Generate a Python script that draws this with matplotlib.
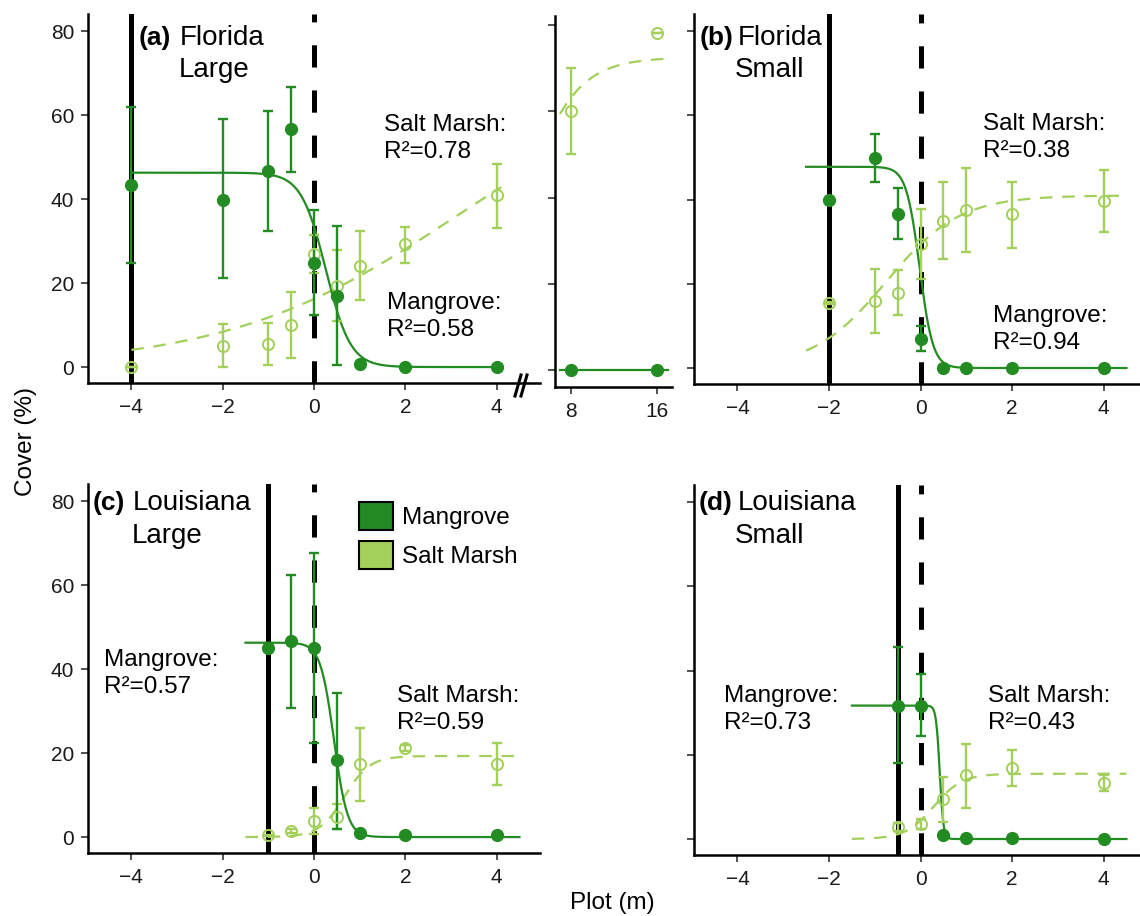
import numpy as np
import matplotlib
matplotlib.use("Agg")
import matplotlib.pyplot as plt
from matplotlib.patches import Patch
from matplotlib.lines import Line2D

plt.rcParams['font.family'] = ['Liberation Sans', 'DejaVu Sans']
plt.rcParams['lines.scale_dashes'] = False

W, H = 1140, 916
MANG = '#228B22'
SALT = '#A2D05A'

# ---- data ----
# (a) Florida Large
fl_l_x = [-4, -2, -1, -0.5, 0, 0.5, 1, 2, 4]
fl_l_mang = [43.4, 39.9, 46.7, 56.7, 24.9, 17.0, 0.7, 0.1, 0.1]
fl_l_mang_lo = [24.8, 21.1, 32.5, 46.5, 12.5, 0.5, 0.7, 0.1, 0.1]
fl_l_mang_hi = [61.9, 59.0, 61.0, 66.8, 37.5, 33.5, 0.7, 0.1, 0.1]
fl_l_salt = [0.1, 5.0, 5.6, 10.0, 27.0, 19.4, 24.1, 29.2, 40.9]
fl_l_salt_lo = [0.1, 0.1, 0.6, 2.1, 22.4, 10.9, 15.9, 24.9, 33.2]
fl_l_salt_hi = [0.1, 10.2, 10.6, 17.8, 31.5, 28.0, 32.5, 33.3, 48.4]

# (a) far plots (broken axis)
fl_far_x = [8, 16]
fl_far_mang = [0.0, 0.0]
fl_far_salt = [60.1, 78.1]
fl_far_salt_lo = [50.1, 78.1]
fl_far_salt_hi = [70.0, 78.1]

# (b) Florida Small
fl_s_x = [-2, -1, -0.5, 0, 0.5, 1, 2, 4]
fl_s_mang = [40.0, 50.0, 36.6, 6.9, 0.1, 0.0, 0.0, 0.0]
fl_s_mang_lo = [39.7, 44.1, 30.6, 4.1, 0.1, 0.0, 0.0, 0.0]
fl_s_mang_hi = [40.3, 55.7, 42.7, 10.0, 0.1, 0.0, 0.0, 0.0]
fl_s_salt = [15.4, 15.9, 17.9, 29.4, 34.9, 37.5, 36.5, 39.6]
fl_s_salt_lo = [15.1, 8.2, 12.6, 21.1, 25.8, 27.5, 28.6, 32.2]
fl_s_salt_hi = [15.7, 23.6, 23.2, 37.7, 44.1, 47.4, 44.3, 47.0]

# (c) Louisiana Large
la_l_x = [-1, -0.5, 0, 0.5, 1, 2, 4]
la_l_mang = [45.0, 46.6, 45.0, 18.3, 1.0, 0.4, 0.4]
la_l_mang_lo = [44.7, 30.7, 22.4, 2.0, 1.0, 0.4, 0.4]
la_l_mang_hi = [45.3, 62.5, 67.6, 34.3, 1.0, 0.4, 0.4]
la_l_salt = [0.4, 1.4, 3.8, 4.8, 17.3, 21.2, 17.3]
la_l_salt_lo = [0.2, 0.9, 0.8, 1.8, 8.7, 20.5, 12.3]
la_l_salt_hi = [0.6, 1.9, 6.9, 7.9, 26.0, 21.9, 22.4]

# (d) Louisiana Small
la_s_x = [-0.5, 0, 0.5, 1, 2, 4]
la_s_mang = [31.7, 31.7, 1.0, 0.2, 0.2, 0.0]
la_s_mang_lo = [18.0, 24.4, 1.0, 0.2, 0.2, 0.0]
la_s_mang_hi = [45.5, 39.1, 1.0, 0.2, 0.2, 0.0]
la_s_salt = [2.9, 3.6, 9.5, 15.1, 16.8, 13.3]
la_s_salt_lo = [1.9, 2.4, 4.0, 7.4, 12.5, 11.5]
la_s_salt_hi = [3.9, 4.8, 14.8, 22.6, 21.2, 15.2]

# logistic fits: (plateau, midpoint, scale, x from, x to)
fit_a_mang = (46.3, 0.26, 0.27, -4.0, 4.1)
fit_a_salt = (72.5, 3.16, 2.54, -4.0, 4.1)
fit_far_mang = (0.0, 0.0, 1.0, 7.0, 17.0)
fit_far_salt = (72.5, 3.16, 2.54, 7.0, 17.0)
fit_b_mang = (47.8, -0.02, 0.146, -2.5, 4.5)
fit_b_salt = (41.0, -0.75, 0.8, -2.5, 4.5)
fit_c_mang = (46.3, 0.437, 0.148, -1.5, 4.5)
fit_c_salt = (19.3, 0.667, 0.278, -1.5, 4.5)
fit_d_mang = (31.7, 0.42, 0.04, -1.5, 4.5)
fit_d_salt = (15.5, 0.29, 0.31, -1.5, 4.5)

edge_lines = {'a': -4, 'b': -2, 'c': -1, 'd': -0.5}
r2 = {'a': ('0.78', '0.58'), 'b': ('0.38', '0.94'), 'c': ('0.59', '0.57'), 'd': ('0.43', '0.73')}

fig = plt.figure(figsize=(W / 100, H / 100), dpi=100)


def box(l, t, r, b):
    return [l / W, 1 - b / H, (r - l) / W, (b - t) / H]


def fxy(px, py):
    return px / W, 1 - py / H


def style(ax, xlim, ylim, xticks, ylabels):
    ax.set_xlim(*xlim)
    ax.set_ylim(*ylim)
    for s in ['top', 'right']:
        ax.spines[s].set_visible(False)
    for s in ['left', 'bottom']:
        ax.spines[s].set_linewidth(1.8)
    ax.set_xticks(xticks)
    ax.set_yticks([0, 20, 40, 60, 80])
    ax.tick_params(length=5, width=1.2, color='#333333', labelsize=15,
                   labelcolor='#1a1a1a')
    ax.tick_params(axis='x', pad=6)
    ax.tick_params(axis='y', pad=5)
    if not ylabels:
        ax.set_yticklabels([])


def curve(ax, fit, color, decreasing, dashed):
    A, x0, s, a, b = fit
    xs = np.linspace(a, b, 400)
    if decreasing:
        ys = A / (1 + np.exp((xs - x0) / s))
    else:
        ys = A / (1 + np.exp(-(xs - x0) / s))
    if dashed:
        ax.plot(xs, ys, color=color, lw=1.6, dashes=(9, 7), zorder=3)
    else:
        ax.plot(xs, ys, color=color, lw=1.6, zorder=3)


def points(ax, x, y, lo, hi, color, filled):
    y = np.array(y)
    err = [y - np.array(lo), np.array(hi) - y]
    ax.errorbar(x, y, yerr=err, fmt='none', ecolor=color, elinewidth=1.7,
                capsize=3.3, capthick=1.7, zorder=4)
    if filled:
        ax.plot(x, y, 'o', ms=8.5, color=color, zorder=5)
    else:
        ax.plot(x, y, 'o', ms=8, mfc='none', mec=color, mew=1.4, zorder=5)


def vlines(ax, edge):
    ax.axvline(edge, color='black', lw=3.6, zorder=2)
    ax.axvline(0, color='black', lw=3.6, dashes=(16, 16.5), zorder=2)


XL = (-4.95, 4.95)
YL = (-3.8, 84.1)
xt = [-4, -2, 0, 2, 4]

panels = [
    ('a', box(88, 14, 540, 383), True, fl_l_x, fl_l_mang, fl_l_mang_lo, fl_l_mang_hi,
     fl_l_salt, fl_l_salt_lo, fl_l_salt_hi, fit_a_mang, fit_a_salt),
    ('b', box(694, 14, 1147, 384), False, fl_s_x, fl_s_mang, fl_s_mang_lo, fl_s_mang_hi,
     fl_s_salt, fl_s_salt_lo, fl_s_salt_hi, fit_b_mang, fit_b_salt),
    ('c', box(88, 484, 540, 853), True, la_l_x, la_l_mang, la_l_mang_lo, la_l_mang_hi,
     la_l_salt, la_l_salt_lo, la_l_salt_hi, fit_c_mang, fit_c_salt),
    ('d', box(694, 485, 1147, 855), False, la_s_x, la_s_mang, la_s_mang_lo, la_s_mang_hi,
     la_s_salt, la_s_salt_lo, la_s_salt_hi, fit_d_mang, fit_d_salt),
]

axes = {}
for key, pos, ylab, x, m, mlo, mhi, sv, slo, shi, fm, fs in panels:
    ax = fig.add_axes(pos)
    style(ax, XL, YL, xt, ylab)
    vlines(ax, edge_lines[key])
    curve(ax, fs, SALT, False, True)
    curve(ax, fm, MANG, True, False)
    points(ax, x, sv, slo, shi, SALT, False)
    points(ax, x, m, mlo, mhi, MANG, True)
    axes[key] = ax

# broken-axis part of panel (a)
axf = fig.add_axes(box(555, 16, 672, 387))
style(axf, (6.54, 17.4), (-3.9, 82.1), [8, 16], False)
curve(axf, fit_far_salt, SALT, False, True)
axf.plot([fit_far_mang[3], fit_far_mang[4]], [fit_far_mang[0], fit_far_mang[0]],
         color=MANG, lw=1.6, zorder=3)
points(axf, fl_far_x, fl_far_salt, fl_far_salt_lo, fl_far_salt_hi, SALT, False)
points(axf, fl_far_x, fl_far_mang, fl_far_mang, fl_far_mang, MANG, True)

# break marks
for dx in (0, 6):
    fig.add_artist(Line2D([fxy(515 + dx, 396)[0], fxy(521 + dx, 375)[0]],
                          [fxy(515 + dx, 396)[1], fxy(521 + dx, 375)[1]],
                          color='black', lw=2.2))

# panel titles
titles = [('(a)', 'Florida', 'Large', 139, 180, 179, 45, 77),
          ('(b)', 'Florida', 'Small', 700, 738, 735, 45, 77),
          ('(c)', 'Louisiana', 'Large', 93, 133, 132, 510, 543),
          ('(d)', 'Louisiana', 'Small', 699, 738, 735, 510, 543)]
for tag, site, size, xt_, xs_, xz_, y1, y2 in titles:
    fig.text(*fxy(xt_, y1), tag, fontsize=19, fontweight='bold', va='baseline')
    fig.text(*fxy(xs_, y1), site, fontsize=20, va='baseline')
    fig.text(*fxy(xz_, y2), size, fontsize=20, va='baseline')

# R2 annotations: (label, r2, left px, baseline px)
notes = [('Salt Marsh:', r2['a'][0], 384, 131), ('Mangrove:', r2['a'][1], 387, 309),
         ('Salt Marsh:', r2['b'][0], 983, 130), ('Mangrove:', r2['b'][1], 993, 322),
         ('Mangrove:', r2['c'][1], 104, 666), ('Salt Marsh:', r2['c'][0], 397, 702),
         ('Mangrove:', r2['d'][1], 724, 702), ('Salt Marsh:', r2['d'][0], 988, 702)]
for lab, val, px, py in notes:
    fig.text(*fxy(px, py), lab, fontsize=17.5, va='baseline')
    fig.text(*fxy(px, py + 27), 'R\u00b2=' + val, fontsize=17.5, va='baseline')

# legend in (c)
handles = [Patch(facecolor=MANG, edgecolor='black', lw=1.5, label='Mangrove'),
           Patch(facecolor=SALT, edgecolor='black', lw=1.5, label='Salt Marsh')]
fig.legend(handles=handles, loc='upper left', bbox_to_anchor=fxy(359, 502),
           frameon=False, fontsize=17.5, handlelength=1.4, handleheight=1.4,
           handletextpad=0.38, labelspacing=0.45, borderpad=0, borderaxespad=0)

fig.text(*fxy(26, 441), 'Cover (%)', fontsize=17.5, rotation=90, ha='center', va='center')
fig.text(*fxy(612, 903), 'Plot (m)', fontsize=17.5, ha='center', va='center')

fig.savefig('out.png', dpi=100)
